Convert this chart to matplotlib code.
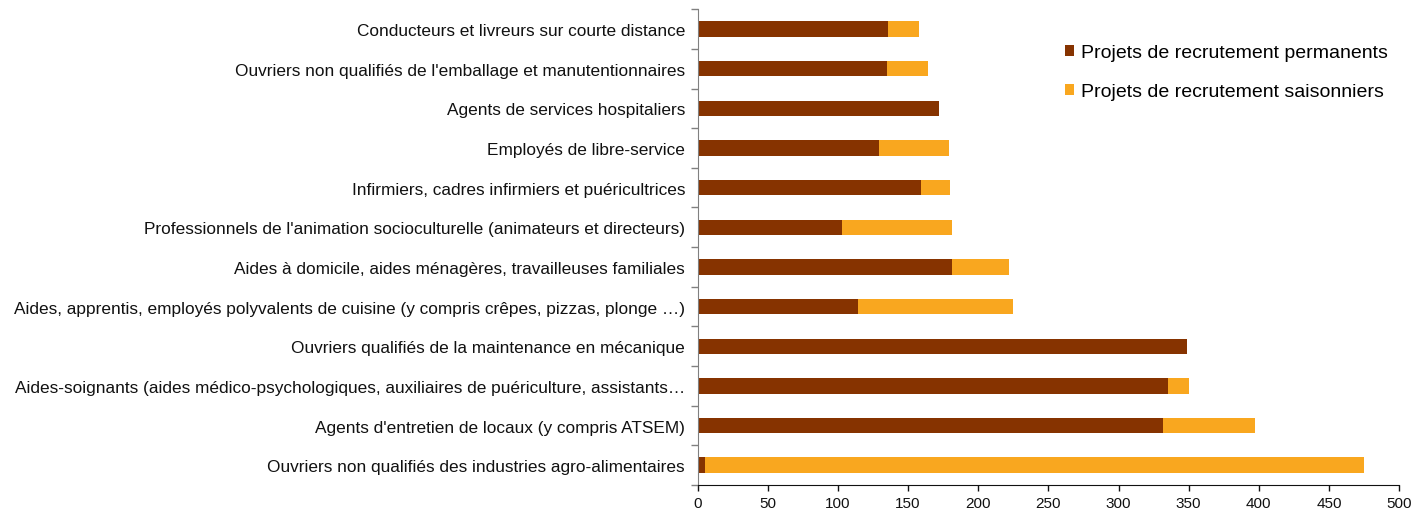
import numpy as np
import matplotlib
matplotlib.use("agg")
import matplotlib.pyplot as plt
from matplotlib.ticker import FixedLocator

plt.rcParams['font.family'] = ['Liberation Sans', 'DejaVu Sans']

# categories, top to bottom as shown
metiers = [
    "Conducteurs et livreurs sur courte distance",
    "Ouvriers non qualifiés de l'emballage et manutentionnaires",
    "Agents de services hospitaliers",
    "Employés de libre-service",
    "Infirmiers, cadres infirmiers et puéricultrices",
    "Professionnels de l'animation socioculturelle (animateurs et directeurs)",
    "Aides à domicile, aides ménagères, travailleuses familiales",
    "Aides, apprentis, employés polyvalents de cuisine (y compris crêpes, pizzas, plonge …)",
    "Ouvriers qualifiés de la maintenance en mécanique",
    "Aides-soignants (aides médico-psychologiques, auxiliaires de puériculture, assistants…",
    "Agents d'entretien de locaux (y compris ATSEM)",
    "Ouvriers non qualifiés des industries agro-alimentaires",
]
permanents = [136, 135, 172, 129, 159, 103, 181, 114, 349, 335, 332, 5]
saisonniers = [22, 29, 0, 50, 21, 78, 41, 111, 0, 15, 65, 470]

col_perm = "#863300"
col_sais = "#F9A71F"

fig = plt.figure(figsize=(14.13, 5.10), dpi=100)
ax = fig.add_axes([0.4937, 0.047, 0.4965, 0.933])

y = np.arange(len(metiers))
h = 0.39
ax.barh(y, permanents, height=h, color=col_perm, edgecolor="none",
        label="Projets de recrutement permanents")
ax.barh(y, saisonniers, left=permanents, height=h, color=col_sais, edgecolor="none",
        label="Projets de recrutement saisonniers")

ax.set_ylim(len(metiers) - 0.5, -0.5)
ax.set_xlim(0, 500)
ax.set_xticks(np.arange(0, 501, 50))
ax.set_yticks(y)
ax.set_yticklabels(metiers, fontsize=12.4, color="#111111")
ax.yaxis.set_minor_locator(FixedLocator(np.arange(-0.5, len(metiers), 1)))
ax.tick_params(axis="y", which="major", length=0, pad=9)
ax.tick_params(axis="y", which="minor", length=5, color="#808080", width=1)
ax.tick_params(axis="x", length=4, width=1, labelsize=11, color="#111111",
               labelcolor="#111111", pad=4)

for s in ["top", "right"]:
    ax.spines[s].set_visible(False)
ax.spines["left"].set_color("#808080")
ax.spines["bottom"].set_color("#111111")

fig.legend(loc="upper left", bbox_to_anchor=(0.748, 0.927), frameon=False,
           fontsize=14, handlelength=0.5, handleheight=0.5, handletextpad=0.35,
           labelspacing=1.15, borderaxespad=0)

fig.savefig("out.png", dpi=100)
